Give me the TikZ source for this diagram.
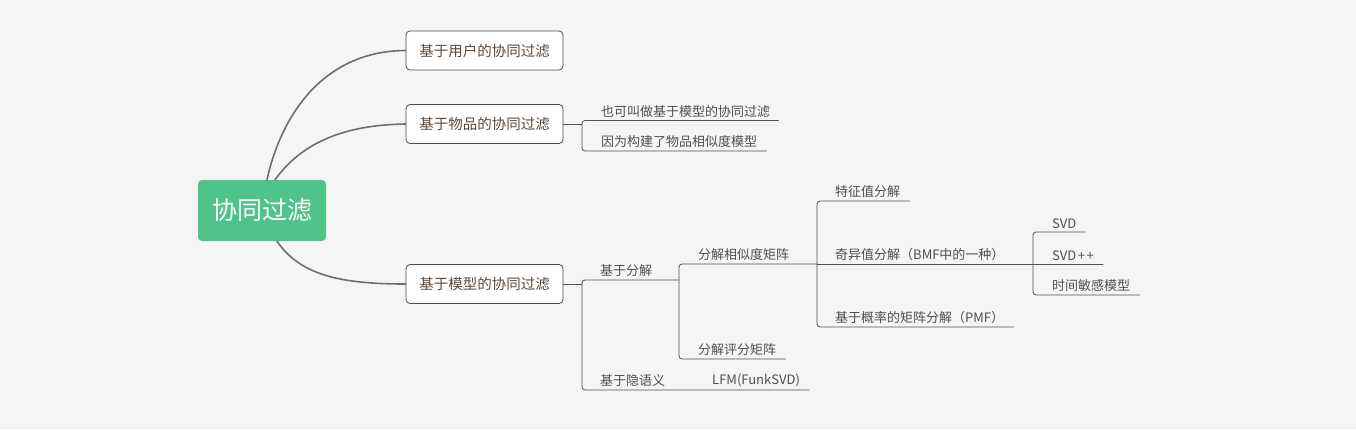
\documentclass[tikz,border=0pt]{standalone}
\usepackage{fontspec}
\setmainfont{Noto Sans CJK SC}
\usetikzlibrary{positioning, calc}
\definecolor{bggray}{HTML}{F5F5F5}
\definecolor{rootgreen}{HTML}{4FC38A}
\definecolor{curvegray}{HTML}{6E6E6E}
\definecolor{topicbrown}{HTML}{5B4A3B}
\definecolor{leafgray}{HTML}{4F4F4F}
\tikzset{
  every picture/.style={line cap=round, line join=round},
  rootbox/.style={fill=rootgreen, rounded corners=4pt, text=white,
    minimum width=128pt, minimum height=61pt, inner sep=0pt,
    font=\fontsize{25}{30}\selectfont},
  topic/.style={draw=black!70, fill=white, rounded corners=4pt, line width=0.8pt,
    minimum width=157pt, minimum height=39pt, inner sep=0pt, text=topicbrown,
    font=\fontsize{14.5}{17}\selectfont},
  leaf/.style={anchor=south west, inner xsep=0pt, inner ysep=3pt, text=leafgray,
    font=\fontsize{13}{15}\selectfont},
  curve/.style={curvegray, line width=1.6pt},
  branch/.style={black!68, line width=0.8pt, rounded corners=3pt},
}

\begin{document}
\begin{tikzpicture}[x=1pt, y=-1pt]
  \fill[bggray] (0,0) rectangle (1356,429);
  % central topic and main branches
  \node[rootbox] (cf) at (262,210.5) {协同过滤};
  \node[topic] (user) at (484.5,50.5) {基于用户的协同过滤};
  \node[topic] (item) at (484.5,124) {基于物品的协同过滤};
  \node[topic] (model) at (484.5,284) {基于模型的协同过滤};
  \draw[curve] ([xshift=5pt]cf.north) .. controls (280,120) and (320,51) .. (user.west);
  \draw[curve] ([xshift=13pt]cf.north) .. controls (300,145) and (340,125) .. (item.west);
  \draw[curve] ([xshift=15pt]cf.south) .. controls (300,275) and (340,284) .. (model.west);
  % bracket columns (only x is used)
  \coordinate (b2) at (582,0);
  \coordinate (b3) at (582,0);
  \coordinate (b4) at (679,0);
  \coordinate (b5) at (817,0);
  \coordinate (b6) at (1033,0);
  % item-based notes
  \node[leaf] (i1) at (601,120.5) {也可叫做基于模型的协同过滤};
  \node[leaf] (i2) at (601,151) {因为构建了物品相似度模型};
  \draw[branch] (item.east) -- (item.east -| b2);
  \draw[branch] ([xshift=8pt]i1.south east) -- (i1.south west -| b2)
    -- (i2.south west -| b2) -- ([xshift=9pt]i2.south east);
  % model-based
  \node[leaf] (f1) at (600,280) {基于分解};
  \node[leaf] (f2) at (600,390) {基于隐语义};
  \node[leaf] (lfm) at (712,390) {LFM(FunkSVD)};
  \draw[branch] (model.east) -- (model.east -| b3);
  \draw[branch] (f1.south west -| b4) -- (f1.south west -| b3)
    -- (f2.south west -| b3) -- ([xshift=9pt]lfm.south east);
  % matrix factorisation
  \node[leaf] (s1) at (698,264) {分解相似度矩阵};
  \node[leaf] (s2) at (698,359) {分解评分矩阵};
  \draw[branch] (s1.south west -| b5) -- (s1.south west -| b4)
    -- (s2.south west -| b4) -- ([xshift=9pt]s2.south east);
  \node[leaf] (e1) at (835,201) {特征值分解};
  \node[leaf] (e2) at (835,264) {奇异值分解（BMF中的一种）};
  \node[leaf] (e3) at (835,327) {基于概率的矩阵分解（PMF）};
  \draw[branch] ([xshift=9pt]e1.south east) -- (e1.south west -| b5)
    -- (e3.south west -| b5) -- ([xshift=9pt]e3.south east);
  \draw[branch] (e2.south west -| b5) -- (e2.south west -| b6);
  % SVD family
  \node[leaf] (v1) at (1052,232) {SVD};
  \node[leaf] (v2) at (1052,264) {SVD\kern1.5pt+\kern1.5pt+};
  \node[leaf] (v3) at (1052,295) {时间敏感模型};
  \draw[branch] ([xshift=9pt]v1.south east) -- (v1.south west -| b6)
    -- (v3.south west -| b6) -- ([xshift=9pt]v3.south east);
  \draw[branch] (v2.south west -| b6) -- ([xshift=9pt]v2.south east);
\end{tikzpicture}
\end{document}
